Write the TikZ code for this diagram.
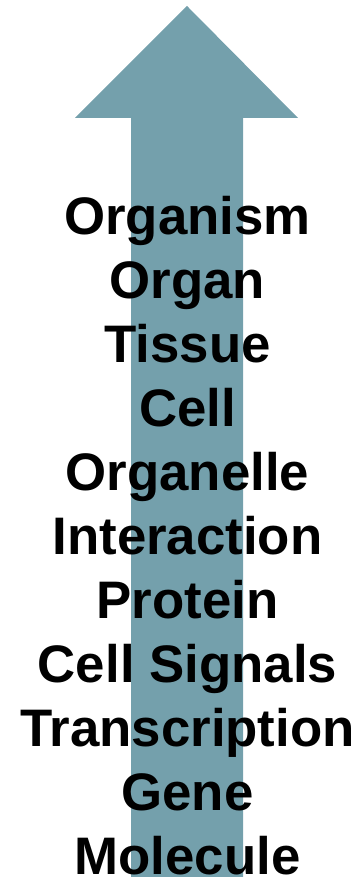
\documentclass[tikz,border=0pt]{standalone}
\usepackage{fontspec}
\setmainfont{Liberation Sans}
\usepackage{xcolor}
\usepackage{tikz}
\usetikzlibrary{positioning}
\definecolor{arrowblue}{HTML}{74A0AC}

\begin{document}
\begin{tikzpicture}[
  x=1pt,y=1pt,
  level/.style={anchor=base,inner sep=0pt,font=\fontsize{52.8}{64}\selectfont\bfseries}
]
\useasboundingbox (0,0) rectangle (360,877);
% big upward arrow
\fill[arrowblue] (131,0) -- (131,759) -- (75,759) -- (187,871)
  -- (298,759) -- (243,759) -- (243,0) -- cycle;
% levels, top to bottom
\foreach \name/\txt [count=\i from 0] in {organism/Organism,organ/Organ,
    tissue/Tissue,cell/Cell,organelle/Organelle,interaction/Interaction,
    protein/Protein,signals/Cell Signals,transcription/Transcription,
    gene/Gene,molecule/Molecule}
  \node[level] (\name) at (187.5,642-64*\i) {\txt};
\end{tikzpicture}
\end{document}
